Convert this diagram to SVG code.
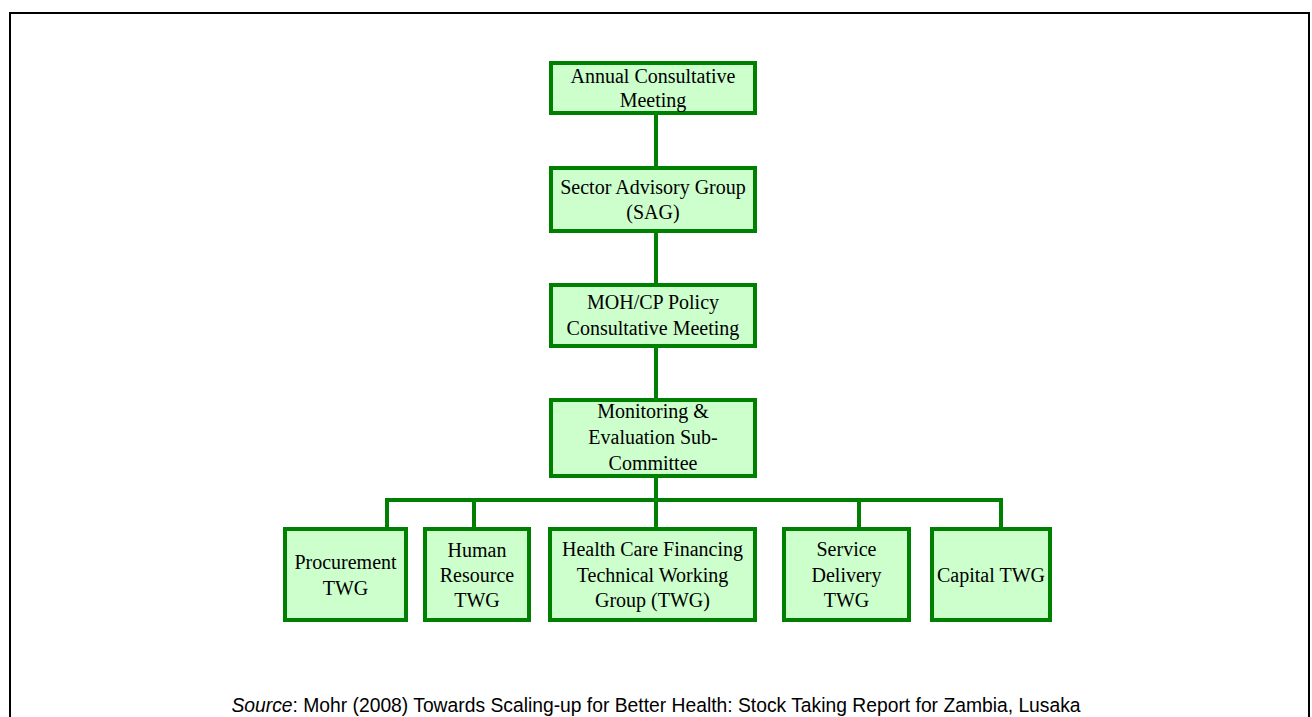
<svg xmlns="http://www.w3.org/2000/svg" width="1312" height="717" viewBox="0 0 1312 717">
<style>
.box{fill:#CCFFCC;stroke:#008000;stroke-width:4}
.lbl{font-family:"Liberation Serif","Times New Roman",serif;font-size:20px;fill:#000;text-anchor:middle}
.con{stroke:#008000;stroke-width:4;fill:none}
.src{font-family:"Liberation Sans",Arial,sans-serif;font-size:19.3px;fill:#000;text-anchor:middle}
</style>
<rect width="1312" height="717" fill="#fff"/>
<path d="M10,717 V13 H1309 V717" fill="none" stroke="#000" stroke-width="2"/>
<g id="connectors">
<line class="con" x1="656" y1="113" x2="656" y2="168"/>
<line class="con" x1="656" y1="231" x2="656" y2="285"/>
<line class="con" x1="656" y1="346" x2="656" y2="400"/>
<line class="con" x1="656" y1="476" x2="656" y2="529"/>
<line class="con" x1="385" y1="500" x2="1003" y2="500"/>
<line class="con" x1="387" y1="498" x2="387" y2="529"/>
<line class="con" x1="474" y1="500" x2="474" y2="529"/>
<line class="con" x1="859" y1="500" x2="859" y2="529"/>
<line class="con" x1="1001" y1="498" x2="1001" y2="529"/>
</g>
<g id="annual">
<rect class="box" x="551" y="63" width="204" height="50"/>
<text class="lbl" x="653" y="83">Annual Consultative</text>
<text class="lbl" x="653" y="107">Meeting</text>
</g>
<g id="sag">
<rect class="box" x="551" y="168" width="204" height="63"/>
<text class="lbl" x="653" y="194">Sector Advisory Group</text>
<text class="lbl" x="653" y="219">(SAG)</text>
</g>
<g id="mohcp">
<rect class="box" x="551" y="285" width="204" height="61"/>
<text class="lbl" x="653" y="309">MOH/CP Policy</text>
<text class="lbl" x="653" y="335">Consultative Meeting</text>
</g>
<g id="me">
<rect class="box" x="551" y="400" width="204" height="76"/>
<text class="lbl" x="653" y="418">Monitoring &amp;</text>
<text class="lbl" x="653" y="444">Evaluation Sub-</text>
<text class="lbl" x="653" y="470">Committee</text>
</g>
<g id="procurement">
<rect class="box" x="285" y="529" width="121" height="91"/>
<text class="lbl" x="345.5" y="569">Procurement</text>
<text class="lbl" x="345.5" y="595">TWG</text>
</g>
<g id="hr">
<rect class="box" x="425" y="529" width="104" height="91"/>
<text class="lbl" x="477" y="557">Human</text>
<text class="lbl" x="477" y="582">Resource</text>
<text class="lbl" x="477" y="607">TWG</text>
</g>
<g id="hcf">
<rect class="box" x="550" y="529" width="205" height="91"/>
<text class="lbl" x="652.5" y="556">Health Care Financing</text>
<text class="lbl" x="652.5" y="582">Technical Working</text>
<text class="lbl" x="652.5" y="607">Group (TWG)</text>
</g>
<g id="service">
<rect class="box" x="784" y="529" width="125" height="91"/>
<text class="lbl" x="846.5" y="556">Service</text>
<text class="lbl" x="846.5" y="582">Delivery</text>
<text class="lbl" x="846.5" y="607">TWG</text>
</g>
<g id="capital">
<rect class="box" x="932" y="529" width="118" height="91"/>
<text class="lbl" x="991" y="582">Capital TWG</text>
</g>
<text class="src" x="656" y="712"><tspan font-style="italic">Source</tspan>: Mohr (2008) Towards Scaling-up for Better Health: Stock Taking Report for Zambia, Lusaka</text>
</svg>
